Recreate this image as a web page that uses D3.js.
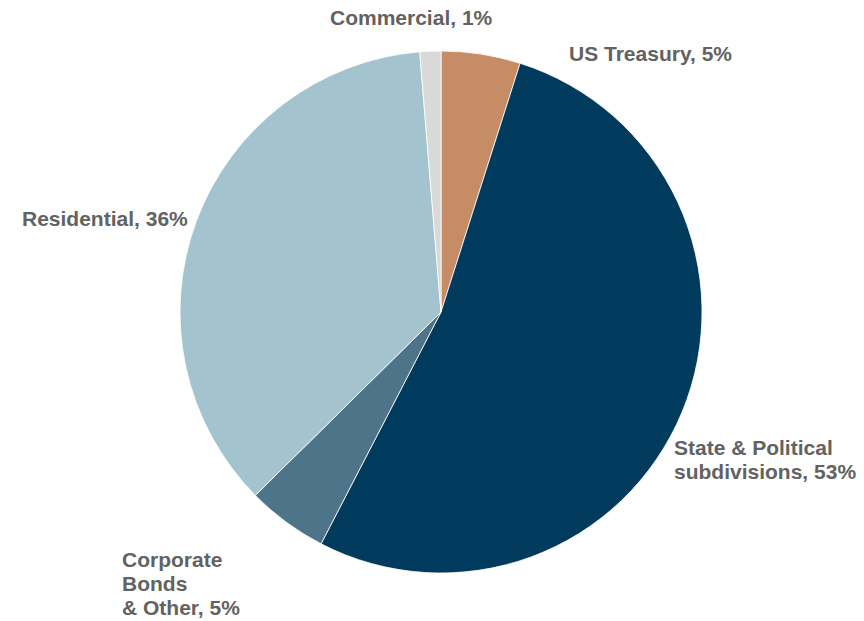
<!DOCTYPE html>
<html><head><meta charset="utf-8">
<script src="https://cdn.jsdelivr.net/npm/d3@7"></script>
<style>html,body{margin:0;padding:0;background:#fff;}</style>
</head><body>
<svg id="chart" width="864" height="621"></svg>
<script>
const categories = ["US Treasury", "State & Political subdivisions", "Corporate Bonds & Other", "Residential", "Commercial"];
const values = [4.9, 52.7, 5.0, 36.1, 1.3];
const labels = ["US Treasury, 5%", "State & Political|subdivisions, 53%", "Corporate|Bonds|& Other, 5%", "Residential, 36%", "Commercial, 1%"];
const colors = ["#C68C66", "#003A5C", "#4E7489", "#A3C3CF", "#D9D9D9"];
// label anchor positions (left x, first baseline y)
const labelPos = [[569, 61], [674, 455], [122, 567], [22, 226], [330, 25]];

const svg = d3.select("#chart");
const cx = 441, cy = 312, r = 261;
const data = categories.map((c, i) => ({c, v: values[i], i}));
const pie = d3.pie().value(d => d.v).sort(null);
const arc = d3.arc().innerRadius(0).outerRadius(r);
const g = svg.append("g").attr("transform", `translate(${cx},${cy})`);
g.selectAll("path").data(pie(data)).join("path")
  .attr("d", arc)
  .attr("fill", d => colors[d.data.i])
  .attr("stroke", "#fff").attr("stroke-width", 0.8);

const lg = svg.append("g");
labels.forEach((l, i) => {
  const t = lg.append("text")
    .attr("x", labelPos[i][0]).attr("y", labelPos[i][1])
    .attr("font-family", "Liberation Sans, Arial, sans-serif")
    .attr("font-weight", "bold").attr("font-size", 21)
    .attr("fill", "#626262");
  l.split("|").forEach((s, j) => {
    t.append("tspan").attr("x", labelPos[i][0]).attr("dy", j === 0 ? 0 : 24).text(s);
  });
});
</script>
</body></html>
